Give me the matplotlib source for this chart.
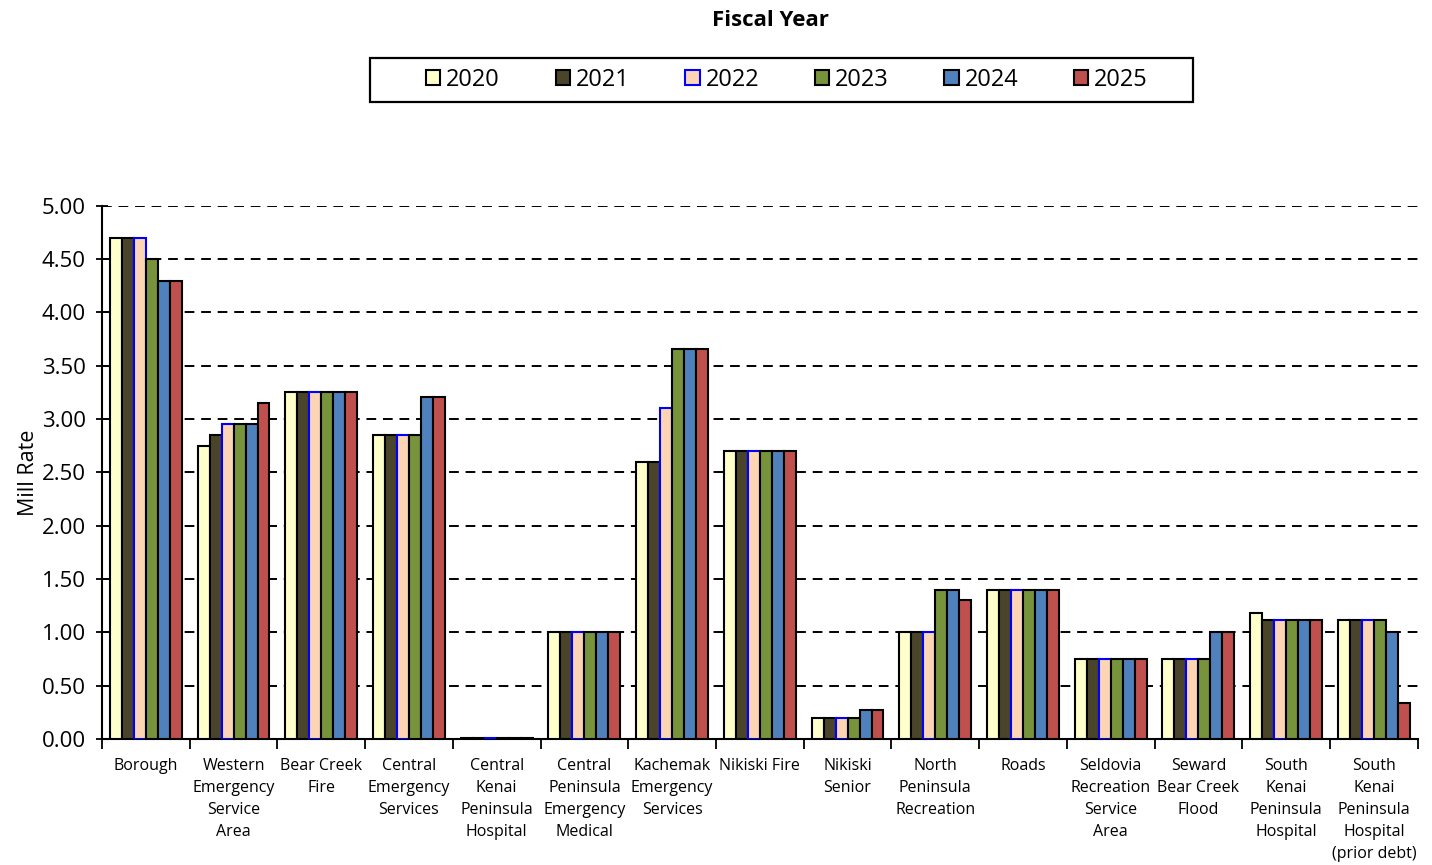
import matplotlib
matplotlib.use("Agg")
import matplotlib.pyplot as plt
from matplotlib.patches import Rectangle
import numpy as np

categories = ["Borough", "Western\nEmergency\nService\nArea", "Bear Creek\nFire",
              "Central\nEmergency\nServices", "Central\nKenai\nPeninsula\nHospital",
              "Central\nPeninsula\nEmergency\nMedical", "Kachemak\nEmergency\nServices",
              "Nikiski Fire", "Nikiski\nSenior", "North\nPeninsula\nRecreation", "Roads",
              "Seldovia\nRecreation\nService\nArea", "Seward\nBear Creek\nFlood",
              "South\nKenai\nPeninsula\nHospital",
              "South\nKenai\nPeninsula\nHospital\n(prior debt)"]
years = ["2020", "2021", "2022", "2023", "2024", "2025"]
fy2020 = [4.70, 2.75, 3.25, 2.85, 0.01, 1.00, 2.60, 2.70, 0.20, 1.00, 1.40, 0.75, 0.75, 1.18, 1.12]
fy2021 = [4.70, 2.85, 3.25, 2.85, 0.01, 1.00, 2.60, 2.70, 0.20, 1.00, 1.40, 0.75, 0.75, 1.12, 1.12]
fy2022 = [4.70, 2.95, 3.25, 2.85, 0.01, 1.00, 3.10, 2.70, 0.20, 1.00, 1.40, 0.75, 0.75, 1.12, 1.12]
fy2023 = [4.50, 2.95, 3.25, 2.85, 0.01, 1.00, 3.66, 2.70, 0.20, 1.40, 1.40, 0.75, 0.75, 1.12, 1.12]
fy2024 = [4.30, 2.95, 3.25, 3.21, 0.01, 1.00, 3.66, 2.70, 0.27, 1.40, 1.40, 0.75, 1.00, 1.12, 1.00]
fy2025 = [4.30, 3.15, 3.25, 3.21, 0.01, 1.00, 3.66, 2.70, 0.27, 1.30, 1.40, 0.75, 1.00, 1.12, 0.34]
series = [fy2020, fy2021, fy2022, fy2023, fy2024, fy2025]
fills = ["#FFFFCC", "#4A452A", "#FCD5B5", "#77933C", "#4F81BD", "#C0504D"]
edges = ["black", "black", "#0000FF", "black", "black", "black"]

plt.rcParams['font.family'] = ['Open Sans', 'DejaVu Sans']

W, H = 1432, 865
fig = plt.figure(figsize=(W / 100, H / 100), dpi=100)
ax = fig.add_axes([0.0712, 0.1457, 0.9188, 0.6163])

x = np.arange(len(categories))
n = len(series)
group_w = 0.82
bw = group_w / n
handles = []
for i, (vals, fc, ec) in enumerate(zip(series, fills, edges)):
    offs = -group_w / 2 + bw * (i + 0.5)
    b = ax.bar(x + offs, vals, bw, color=fc, edgecolor=ec, linewidth=1.5,
               label=years[i], zorder=3)
    handles.append(b)

ax.set_ylim(0, 5)
ax.set_xlim(-0.5, len(categories) - 0.5)
ticks = np.arange(0, 5.01, 0.5)
ax.set_yticks(ticks)
ax.set_yticklabels([f"{v:.2f}" for v in ticks], fontsize=16)
ax.yaxis.grid(True, color="black", linestyle=(0, (5, 3.5)), linewidth=1.4, zorder=0)
ax.set_axisbelow(True)
ax.tick_params(axis='y', direction='inout', length=9, width=1.3, pad=7)

ax.set_xticks(x)
ax.set_xticklabels(categories, fontsize=11.5, linespacing=1.5, va='top')
ax.tick_params(axis='x', length=0, pad=14)
ax.set_xticks(np.arange(-0.5, len(categories), 1), minor=True)
ax.tick_params(axis='x', which='minor', direction='out', length=7, width=1.3)

for side in ['top', 'right']:
    ax.spines[side].set_visible(False)
for side in ['left', 'bottom']:
    ax.spines[side].set_linewidth(1.5)

ax.set_ylabel("Mill Rate", fontsize=15.5, labelpad=2)

fig.text(770 / W, 1 - 21 / H, "Fiscal Year", ha='center', va='center', fontsize=16, fontweight='bold')

# legend frame (drawn as a figure rectangle)
fig.patches.append(Rectangle((370 / W, 1 - 102 / H), (1193 - 370) / W, 44 / H,
                             transform=fig.transFigure, fill=False, edgecolor='black',
                             linewidth=1.6))
leg = fig.legend(handles=handles, labels=years, loc='center', bbox_to_anchor=(787 / W, 1 - 80 / H),
                 ncol=6, fontsize=17, frameon=False,
                 handlelength=0.6, handleheight=0.6, handletextpad=0.25, columnspacing=2.36,
                 borderpad=0.2, borderaxespad=0)

fig.savefig("out.png", dpi=100)
